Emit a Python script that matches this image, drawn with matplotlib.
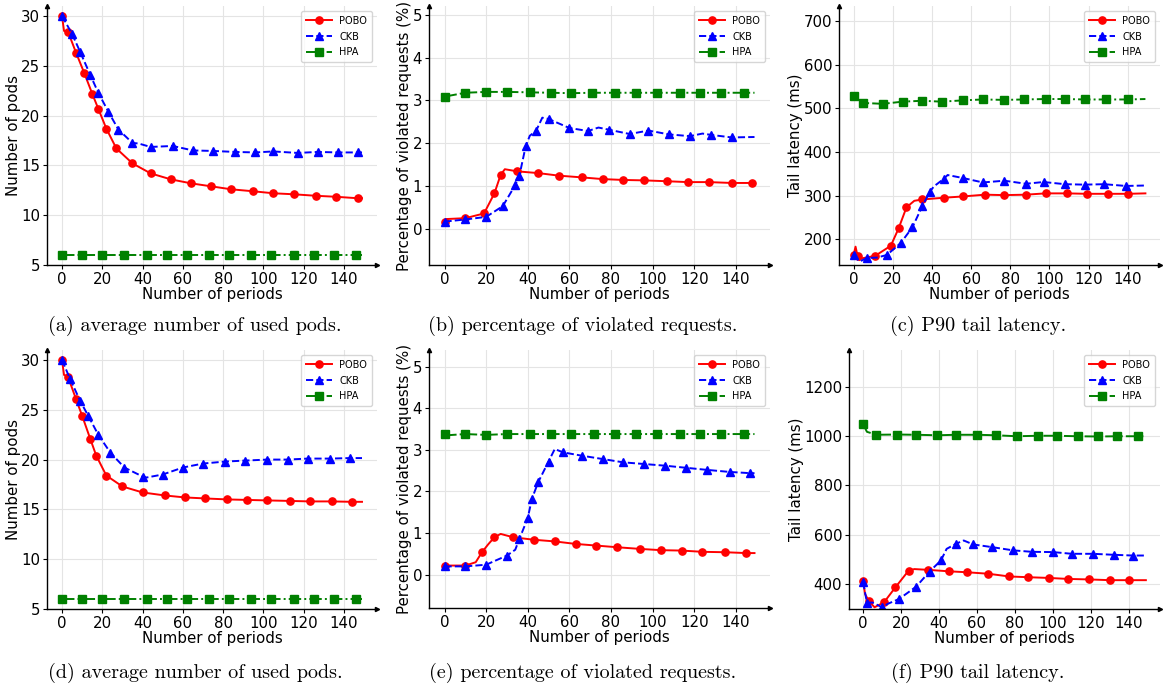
import matplotlib
matplotlib.use("Agg")
import matplotlib.pyplot as plt

W, H = 1169, 688

# ---- (a) average number of used pods, scenario 1
a_pobo_t = [0, 1, 3, 7, 11, 15, 18, 22, 27, 35, 44, 54, 64, 74, 84, 95, 105, 115, 126, 136, 147, 149]
a_pobo_v = [30, 28.5, 28.4, 26.3, 24.3, 22.2, 20.7, 18.7, 16.7, 15.2, 14.2, 13.6, 13.2, 12.9, 12.6,
            12.4, 12.2, 12.1, 11.95, 11.85, 11.7, 11.7]
a_ckb_t = [0, 5, 9, 14, 18, 23, 28, 35, 38, 44, 55, 65, 75, 86, 96, 105, 117, 127, 137, 147, 149]
a_ckb_v = [30, 28.2, 26.4, 24.1, 22.3, 20.4, 18.6, 17.25, 17.2, 16.85, 16.95, 16.5, 16.45, 16.35,
           16.3, 16.4, 16.25, 16.35, 16.3, 16.3, 16.3]
a_hpa_t = [0, 10, 20, 31, 42, 52, 62, 73, 83, 94, 104, 115, 125, 135, 146, 149]
a_hpa_v = [6] * 16

# ---- (b) percentage of violated requests, scenario 1
b_pobo_t = [0, 1, 10, 19, 24, 27, 29, 35, 45, 55, 66, 76, 86, 96, 107, 117, 127, 138, 148, 149]
b_pobo_v = [0.18, 0.24, 0.26, 0.37, 0.84, 1.27, 1.40, 1.35, 1.31, 1.25, 1.21, 1.17, 1.15, 1.14,
            1.12, 1.10, 1.10, 1.08, 1.08, 1.08]
b_ckb_t = [0, 10, 20, 28, 34, 36, 39, 41, 44, 47, 50, 60, 69, 74, 79, 89, 98, 108, 118, 124, 128, 138, 149]
b_ckb_v = [0.18, 0.23, 0.29, 0.54, 1.03, 1.25, 1.93, 2.18, 2.29, 2.6, 2.57, 2.36, 2.29, 2.37, 2.32,
           2.22, 2.30, 2.21, 2.17, 2.23, 2.2, 2.14, 2.15]
b_hpa_t = [0, 10, 20, 30, 41, 51, 61, 71, 82, 92, 102, 113, 123, 133, 144, 149]
b_hpa_v = [3.09, 3.18, 3.2, 3.2, 3.19, 3.18, 3.17, 3.18, 3.18, 3.18, 3.18, 3.18, 3.18, 3.18, 3.18, 3.18]

# ---- (c) P90 tail latency, scenario 1
c_pobo_t = [0, 1, 2, 3, 4, 11, 19, 23, 27, 31, 35, 46, 56, 67, 77, 88, 98, 109, 119, 130, 140, 149]
c_pobo_v = [164, 183, 162, 152, 156, 162, 185, 225, 273, 288, 291, 295, 298, 302, 301, 302, 305,
            305, 304, 304, 304, 305]
c_ckb_t = [0, 3, 7, 12, 17, 24, 30, 35, 39, 41, 46, 48, 56, 66, 77, 88, 97, 108, 118, 128, 139, 149]
c_ckb_v = [164, 149, 157, 158, 164, 191, 227, 275, 309, 321, 338, 347, 340, 330, 334, 327, 331,
           326, 325, 326, 322, 323]
c_hpa_t = [0, 5, 15, 25, 35, 45, 56, 66, 77, 87, 98, 108, 118, 129, 140, 149]
c_hpa_v = [527, 512, 510, 515, 517, 515, 518, 520, 519, 520, 521, 521, 520, 520, 520, 521]

# ---- (d) average number of used pods, scenario 2
d_pobo_t = [0, 1, 3, 7, 10, 14, 17, 22, 30, 40, 51, 61, 71, 82, 92, 102, 113, 123, 134, 144, 149]
d_pobo_v = [30, 28.5, 28.3, 26.05, 24.4, 22.1, 20.4, 18.4, 17.3, 16.7, 16.4, 16.2, 16.1, 16.0,
            15.95, 15.9, 15.85, 15.8, 15.8, 15.76, 15.76]
d_ckb_t = [0, 4, 9, 13, 18, 24, 31, 40, 42, 50, 60, 70, 81, 91, 102, 112, 122, 133, 143, 149]
d_ckb_v = [30, 28.1, 25.9, 24.4, 22.5, 20.7, 19.2, 18.3, 18.2, 18.5, 19.2, 19.6, 19.8, 19.9, 20.0,
           20.0, 20.1, 20.1, 20.15, 20.15]
d_hpa_t = [0, 10, 20, 31, 42, 52, 62, 73, 83, 94, 104, 115, 125, 135, 146, 149]
d_hpa_v = [6] * 16

# ---- (e) percentage of violated requests, scenario 2
e_pobo_t = [0, 10, 15, 18, 21, 24, 27, 33, 43, 53, 63, 73, 83, 94, 104, 114, 124, 135, 145, 149]
e_pobo_v = [0.22, 0.22, 0.3, 0.54, 0.73, 0.9, 0.98, 0.9, 0.84, 0.8, 0.74, 0.7, 0.66, 0.62, 0.59,
            0.58, 0.55, 0.54, 0.52, 0.52]
e_ckb_t = [0, 10, 20, 30, 34, 36, 40, 42, 45, 50, 53, 57, 66, 76, 86, 96, 106, 116, 126, 137, 147, 149]
e_ckb_v = [0.2, 0.2, 0.24, 0.46, 0.6, 0.86, 1.36, 1.82, 2.22, 2.72, 3.02, 2.94, 2.86, 2.78, 2.7,
           2.66, 2.62, 2.57, 2.52, 2.47, 2.44, 2.44]
e_hpa_t = [0, 1, 10, 20, 30, 41, 51, 61, 72, 82, 92, 102, 113, 123, 133, 144, 149]
e_hpa_v = [3.38, 3.35, 3.38, 3.36, 3.38, 3.38, 3.38, 3.38, 3.38, 3.38, 3.38, 3.38, 3.38, 3.38,
           3.38, 3.38, 3.38]

# ---- (f) P90 tail latency, scenario 2
f_pobo_t = [0, 1, 3, 6, 11, 17, 24, 27, 34, 45, 55, 66, 77, 87, 98, 108, 119, 130, 140, 149]
f_pobo_v = [413, 359, 330, 305, 325, 386, 454, 460, 457, 451, 447, 441, 430, 427, 424, 420, 418,
            415, 415, 415]
f_ckb_t = [0, 2, 5, 10, 13, 19, 28, 35, 41, 44, 49, 53, 58, 68, 79, 89, 100, 110, 121, 132, 142, 149]
f_ckb_v = [407, 324, 324, 305, 319, 339, 389, 450, 495, 542, 563, 576, 560, 549, 536, 530, 529,
           522, 522, 518, 515, 515]
f_hpa_t = [0, 2, 7, 18, 28, 39, 49, 60, 70, 81, 92, 102, 113, 124, 134, 145, 149]
f_hpa_v = [1048, 1017, 1005, 1006, 1005, 1003, 1005, 1005, 1003, 999, 1001, 1001, 999, 998, 999,
           999, 999]

captions = ["(a) average number of used pods.", "(b) percentage of violated requests.",
            "(c) P90 tail latency.", "(d) average number of used pods.",
            "(e) percentage of violated requests.", "(f) P90 tail latency."]


def skip(n, *drop):
    # marker indices: every point except the listed ones and the final line end
    return [i for i in range(n - 1) if i not in drop]


panels = [
    dict(s=[(a_pobo_t, a_pobo_v, (1,)), (a_ckb_t, a_ckb_v, (8,)), (a_hpa_t, a_hpa_v, ())],
         ylabel="Number of pods", ylim=(5, 31), yticks=range(5, 31, 5), box=(47, 377, 6, 265)),
    dict(s=[(b_pobo_t, b_pobo_v, (1, 6)), (b_ckb_t, b_ckb_v, (7, 9, 13, 19)), (b_hpa_t, b_hpa_v, ())],
         ylabel="Percentage of violated requests (%)", ylim=(-0.83, 5.2), yticks=range(0, 6),
         box=(429, 770, 6, 265)),
    dict(s=[(c_pobo_t, c_pobo_v, (1, 3, 4, 9)), (c_ckb_t, c_ckb_v, (1, 3, 9, 11)), (c_hpa_t, c_hpa_v, ())],
         ylabel="Tail latency (ms)", ylim=(141, 734), yticks=range(200, 701, 100),
         box=(839, 1160, 6, 265)),
    dict(s=[(d_pobo_t, d_pobo_v, (1,)), (d_ckb_t, d_ckb_v, (8,)), (d_hpa_t, d_hpa_v, ())],
         ylabel="Number of pods", ylim=(5, 31), yticks=range(5, 31, 5), box=(47, 377, 350, 609)),
    dict(s=[(e_pobo_t, e_pobo_v, (2, 4, 6)), (e_ckb_t, e_ckb_v, (4, 10)), (e_hpa_t, e_hpa_v, (1,))],
         ylabel="Percentage of violated requests (%)", ylim=(-0.8, 5.4), yticks=range(0, 6),
         box=(429, 770, 350, 608)),
    dict(s=[(f_pobo_t, f_pobo_v, (1, 3, 7)), (f_ckb_t, f_ckb_v, (2, 4, 9, 11)), (f_hpa_t, f_hpa_v, (1,))],
         ylabel="Tail latency (ms)", ylim=(298, 1349), yticks=range(400, 1201, 200),
         box=(849, 1160, 350, 609)),
]

styles = [
    dict(color="red", linestyle="-", marker="o", label="POBO"),
    dict(color="blue", linestyle="--", marker="^", label="CKB"),
    dict(color="green", linestyle="-.", marker="s", label="HPA"),
]

fig = plt.figure(figsize=(W / 100, H / 100), dpi=100)

for p in panels:
    l, r, t, b = p["box"]
    ax = fig.add_axes([l / W, 1 - b / H, (r - l) / W, (b - t) / H])
    for (xs, ys, drop), st in zip(p["s"], styles):
        ax.plot(xs, ys, lw=1.4, ms=5.2, markevery=skip(len(xs), *drop), **st)
    ax.set_xlim(-7.45, 156.45)
    ax.set_ylim(*p["ylim"])
    ax.set_xticks(range(0, 141, 20))
    ax.set_yticks(list(p["yticks"]))
    ax.tick_params(labelsize=10.8, length=3, width=0.8, pad=2)
    ax.set_xlabel("Number of periods", fontsize=10.8, labelpad=0)
    ax.set_ylabel(p["ylabel"], fontsize=10.8, labelpad=0)
    ax.grid(True, color="#e4e4e4", linewidth=0.8)
    for side in ("top", "right"):
        ax.spines[side].set_visible(False)
    for side in ("left", "bottom"):
        ax.spines[side].set_linewidth(1.0)
    ax.plot(1, 0, ">k", ms=3, transform=ax.transAxes, clip_on=False)
    ax.plot(0, 1, "^k", ms=3, transform=ax.transAxes, clip_on=False)
    ax.legend(loc="upper right", fontsize=7, handlelength=2.6, borderpad=0.5,
              labelspacing=0.6, fancybox=True)

cap_x = [195, 583, 978]
cap_y = [326, 673]
for i, txt in enumerate(captions):
    fig.text(cap_x[i % 3] / W, 1 - cap_y[i // 3] / H, txt, family="cmr10", fontsize=14.5,
             ha="center", va="center")

fig.savefig("out.png", dpi=100)
